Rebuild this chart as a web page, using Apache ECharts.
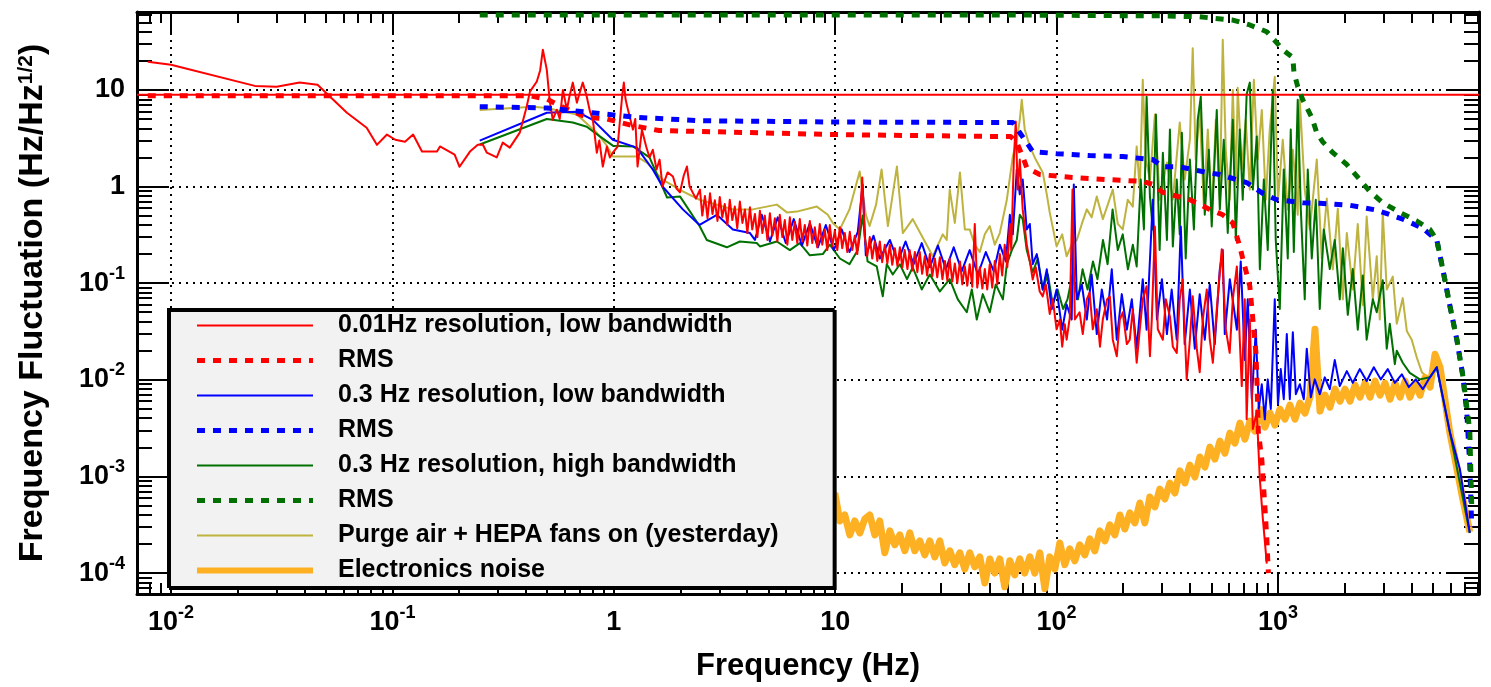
<!DOCTYPE html>
<html><head><meta charset="utf-8">
<script src="https://cdn.jsdelivr.net/npm/echarts@6/dist/echarts.min.js"></script>
<style>html,body{margin:0;padding:0;background:#fff}#c{width:1491px;height:687px}</style>
</head><body><div id="c"></div><script>
// ---------- axis ranges & tick labels ----------
const X_RANGE = [0.00702, 8090];
const Y_RANGE = [6.07e-5, 64];
const xMajorTicks = [0.01, 0.1, 1, 10, 100, 1000];
const xTickLabels = ['10^-2', '10^-1', '1', '10', '10^2', '10^3'];
const yMajorTicks = [1e-4, 1e-3, 1e-2, 0.1, 1, 10];
const yTickLabels = ['10^-4', '10^-3', '10^-2', '10^-1', '1', '10'];
const minorMultipliers = [2, 3, 4, 5, 6, 7, 8, 9];

// ---------- series names ----------
const seriesNames = [
  '0.01Hz resolution, low bandwidth', 'RMS#red',
  '0.3 Hz resolution, low bandwidth', 'RMS#blue',
  '0.3 Hz resolution, high bandwidth', 'RMS#green',
  'Purge air + HEPA fans on (yesterday)', 'Electronics noise'
];

// ---------- data [frequency Hz, fluctuation Hz/Hz^1/2] ----------
const redSolid = [
[0.00785,19.6],[0.01,18.2],[0.0239,11.0],[0.030,10.8],[0.0381,11.9],[0.0459,11.3],[0.0623,5.8],[0.0765,4.06],[0.0851,2.7],[0.0945,3.45],[0.103,3.05],[0.114,2.9],[0.124,3.45],[0.136,2.3],[0.159,2.3],[0.164,2.6],[0.191,2.14],[0.201,1.6],[0.224,2.3],[0.243,2.7],[0.256,2.72],[0.267,2.24],[0.296,2.0],[0.315,2.85],[0.339,2.53],[0.376,3.61],[0.404,6.7],[0.418,9.6],[0.449,12.2],[0.465,16],[0.478,26],[0.498,16.2],[0.514,7.55],[0.530,4.92],[0.553,6.24],[0.57,5.0],[0.589,10.0],[0.614,6.24],[0.63,8.5],[0.653,11.9],[0.681,7.38],[0.702,9.4],[0.724,11.9],[0.755,8.5],[0.78,6.0],[0.804,4.92],[0.838,2.24],[0.86,3.0],[0.892,1.61],[0.930,2.59],[0.96,2.0],[0.99,2.24],[1.04,2.59],[1.09,8.5],[1.11,11.9],[1.13,8.0],[1.15,6.7],[1.22,3.88],[1.25,5.0],[1.28,1.61],[1.34,3.88],[1.40,2.6],[1.45,2.0],[1.50,2.4],[1.56,1.5],[1.61,1.9],[1.66,1.0],[1.75,1.4],[1.85,1.27],[1.92,0.95],[1.99,0.87],[2.07,1.3],[2.14,1.61],[2.2,1.0],[2.27,0.87],[2.35,0.75],
[2.45,0.93],[2.51,0.50],[2.58,0.80],[2.65,0.47],[2.72,0.85],[2.79,0.52],[2.86,0.72],[2.94,0.44],[3.01,0.78],[3.09,0.48],[3.17,0.66],[3.26,0.40],[3.34,0.73],[3.43,0.45],[3.52,0.62],[3.61,0.37],[3.71,0.70],[3.81,0.42],[3.91,0.58],[4.01,0.33],[4.12,0.61],[4.22,0.36],[4.34,0.52],[4.45,0.30],[4.57,0.56],[4.69,0.33],[4.81,0.50],[4.94,0.28],[5.07,0.53],[5.20,0.31],[5.34,0.47],[5.48,0.27],[5.62,0.51],[5.77,0.30],[5.92,0.45],[6.08,0.25],[6.24,0.48],[6.40,0.28],[6.57,0.43],[6.74,0.26],[6.92,0.46],[7.10,0.27],[7.29,0.40],[7.48,0.245],[7.68,0.44],[7.88,0.26],[8.09,0.38],[8.30,0.235],[8.52,0.41],[8.74,0.25],[8.97,0.36],[9.21,0.22],[9.45,0.40],[9.70,0.24],[9.96,0.35],[10.22,0.22],[10.49,0.38],[10.76,0.23],[11.05,0.33],[11.34,0.21],[11.64,0.34],[11.94,0.22],[12.26,0.31],[12.58,0.20],[12.91,0.40],[13.25,1.24],[13.6,0.30],[13.96,0.19],[14.33,0.30],[14.7,0.18],[15.1,0.27],[15.5,0.17],[15.9,0.27],[16.3,0.165],[16.75,0.25],[17.2,0.16],[17.65,0.25],[18.1,0.155],[18.6,0.23],[19.1,0.15],[19.6,0.235],[20.1,0.145],[20.6,0.22],[21.2,0.14],[21.7,0.22],[22.3,0.135],[22.9,0.21],[23.5,0.13],[24.1,0.21],[24.7,0.125],[25.4,0.19],[26.0,0.12],[26.75,0.20],[27.45,0.118],[28.2,0.18],[28.9,0.115],[29.7,0.185],[30.5,0.11],[31.3,0.17],[32.1,0.106],[32.9,0.18],[33.8,0.104],[34.7,0.16],[35.6,0.10],[36.6,0.168],[37.5,0.097],[38.5,0.15],[39.5,0.094],[40.5,0.157],[41.6,0.092],[42.7,0.41],[43.8,0.09],[45.0,0.146],[46.2,0.088],[47.4,0.14],[48.6,0.086],[49.9,0.157],[51.2,0.09],[52.6,0.17],[54.0,0.097],[55.4,0.20],[56.8,0.12],[58.3,0.25],[59.9,0.146],[61.5,0.41],[62.4,0.22],[64.1,1.9],[65.4,4.7],
[66.7,0.93],[68.2,1.9],[70.3,0.58],[73.3,0.252],[75.7,0.168],[78.0,0.109],[80.5,0.146],[83.9,0.082],[86.6,0.073],[89.4,0.097],[93.1,0.048],[96.1,0.068],[100,0.0333],[103.4,0.042],[106,0.022],[108.9,0.0376],[111,0.026],[114.7,0.044],[118,0.93],[120.9,0.042],[127,0.05],[131.3,0.0297],[136.9,0.068],[141,0.08],[145.7,0.0333],[151.9,0.0537],[157,0.022],[161.7,0.042],[169,0.068],[174,0.073],[179.4,0.026],[187,0.0175],[193,0.042],[199,0.05],[207.6,0.0234],[214,0.026],[220.9,0.0537],[230,0.015],[237.6,0.0333],[245,0.068],[255,0.093],[264,0.0175],[269.2,0.042],[278,0.386],[286.5,0.0333],[302,0.026],[311.4,0.068],[325,0.045],[335,0.022],[349,0.019],[360,0.068],[371,0.109],[387,0.0101],[400,0.026],[412,0.073],[429.8,0.021],[443,0.012],[457.4,0.042],[477,0.086],[492,0.026],[508,0.015],[529,0.0537],[557,0.224],[581.2,0.0333],[605,0.019],[625,0.068],[652,0.149],[672,0.026],[686,0.0086],[707.9,0.068],[722,0.0039],[746,0.042],[770,0.0031],[802,0.0046],[827.7,0.00095],[854,0.00037],[890,0.000125]
];
const redRms = [
[0.00785,8.7],[0.418,8.7],[0.5,8.0],[0.6,6.5],[0.755,5.2],[0.93,5.0],[1.2,4.3],[1.6,3.8],[3.45,3.65],[9.75,3.45],[50,3.3],[62,3.3],[66.1,2.85],[70.3,2.04],[73.3,1.57],[83.9,1.33],[118,1.24],[169,1.18],[245,1.13],[272,1.05],[302,0.87],[400,0.73],[492,0.58],[563,0.51],[625,0.42],[672,0.24],[693,0.18],[746,0.093],[770,0.042],[795,0.019],[805,0.0086],[815,0.0029],[845,0.0015],[872,0.0005],[890,0.00023],[905,0.0001]
];
const blueSolid = [
[0.248,2.99],[0.498,5.8],[0.681,5.95],[0.804,4.9],[0.99,3.05],[1.27,2.53],[1.5,1.5],[1.66,1.0],[2.05,0.58],[2.44,0.40],[2.92,0.51],[3.45,0.36],[4.12,0.33],
[4.34,0.28],[4.66,0.51],[5.07,0.27],[5.50,0.48],[5.98,0.26],[6.50,0.46],[7.07,0.245],[7.68,0.415],[8.35,0.235],[9.07,0.40],[9.86,0.22],[10.7,0.36],[11.6,0.21],[12.65,0.34],[13.3,1.05],[13.75,0.194],[14.9,0.31],[15.9,0.18],[17.65,0.28],[19.2,0.168],[20.8,0.27],[22.6,0.157],[24.6,0.26],[26.75,0.146],[29.1,0.245],[31.6,0.139],[34.3,0.235],[37.3,0.133],[40.5,0.22],[44.1,0.123],[47.9,0.21],[52.0,0.133],[55.4,0.25],[59.0,0.168],[61.5,0.51],[63.4,0.32],[66.1,1.5],[68.2,0.83],[70.3,1.18],[73.3,0.36],[75.7,0.41],[78.0,0.157],[81.4,0.20],[86.6,0.086],[90.3,0.139],[95.1,0.054],[100,0.086],[106,0.033],[111,0.06],[117,0.042],[119.6,1.05],[123.4,0.068],[130,0.097],[136.9,0.042],[144,0.123],[151.9,0.0297],[160,0.086],[169,0.042],[177.5,0.139],[187,0.026],[197,0.077],[207.6,0.033],[218.6,0.068],[230,0.021],[245,0.11],[255,0.033],[272,0.73],[284,0.042],[299,0.11],[315,0.0297],[331,0.086],[349,0.026],[364,0.386],[379,0.0234],[400,0.086],[421,0.021],[443,0.077],[467,0.026],[492,0.097],[518,0.0234],[546,0.139],[563,0.22],[575,0.0297],[606,0.11],[652,0.033],[679,0.168],[708,0.016],[730,0.068],[762,0.0063],[794,0.033],[819,0.005],[845,0.009],[872,0.0039],[899,0.0101],[928,0.005],[967,0.068],[1000,0.0056],[1029,0.0129],[1062,0.0063],[1096,0.0297],[1131,0.0063],[1167,0.031],[1204,0.0071],[1255,0.009],[1308,0.0063],[1349,0.021],[1407,0.0066],[1466,0.0101],[1544,0.0071],[1627,0.0106],[1714,0.0080],[1805,0.016],[1901,0.0086],[2046,0.0123],[2177,0.0093],[2340,0.0129],[2515,0.0097],[2709,0.0135],[2913,0.0101],[3133,0.0129],[3371,0.0093],[3625,0.0114],[3897,0.0084],[4193,0.0101],[4510,0.008],[4853,0.0106],[5215,0.0135],[5970,0.0029],[6627,0.0012],[7350,0.00026]
];
const blueRms = [
[0.248,6.7],[0.5,6.5],[0.8,5.8],[1.27,5.2],[2.44,4.8],[10,4.65],[55,4.6],[63.4,4.6],[68.2,3.6],[73.3,2.85],[78,2.3],[100,2.19],[141,2.09],[199,2.04],[272,1.9],[302,1.6],[360,1.6],[412,1.5],[477,1.4],[546,1.33],[605,1.24],[722,1.1],[854,0.85],[988,0.73],[1294,0.68],[1544,0.67],[2110,0.64],[2793,0.57],[3660,0.46],[4510,0.37],[5215,0.28],[5549,0.14],[5970,0.059],[6426,0.026],[6837,0.011],[7127,0.0046],[7350,0.0013],[7503,0.0003]
];
const greenSolid = [
[0.248,2.72],[0.498,5.0],[0.653,4.6],[0.755,4.16],[0.865,3.3],[0.99,2.65],[1.22,2.6],[1.45,2.0],[1.74,0.77],[1.99,0.79],[2.44,0.39],[2.63,0.28],[3.24,0.235],[3.71,0.27],[4.42,0.26],[4.57,0.24],[5.45,0.27],[6.24,0.22],[6.92,0.26],[7.68,0.194],[8.79,0.20],[9.45,0.25],[10.5,0.18],[11.6,0.157],[12.65,0.22],[13.3,0.5],[14.0,0.168],[15.4,0.149],[16.4,0.073],[17.1,0.157],[18.2,0.123],[19.6,0.157],[21.1,0.11],[22.4,0.146],[24.6,0.086],[26.75,0.123],[29.7,0.082],[32.9,0.11],[35.8,0.068],[39.3,0.05],[41.4,0.086],[43.6,0.042],[46.4,0.077],[49.9,0.05],[53.1,0.097],[57.2,0.068],[59.6,0.157],[62.8,0.22],[66.1,0.28],[68.2,0.51],[70.3,0.46],[73.3,0.22],[78.0,0.13],[82.3,0.18],[86.6,0.086],[91.3,0.123],[96.1,0.06],[101,0.086],[107,0.054],[112,0.068],[118,0.123],[125,0.068],[131,0.139],[138,0.086],[146,0.168],[153,0.11],[162,0.28],[170,0.157],[179,0.58],[189,0.22],[199,0.32],[210,0.139],[221,0.25],[230,0.149],[240,1.18],[248,0.36],[255,8.5],[264,0.79],[272,0.36],[281,5.55],[292,0.22],[302,2.24],[315,0.28],[325,3.9],[335,0.24],[349,1.18],[360,0.32],[368,3.6],[383,0.18],[400,1.9],[417,0.36],[434,4.9],[448,8.5],[467,0.51],[487,2.4],[502,0.386],[529,6.2],[546,0.58],[569,3.05],[593,0.33],[625,4.9],[645,0.28],[672,3.9],[693,0.73],[722,9.0],[746,11.9],[770,0.93],[802,3.3],[828,0.139],[863,1.18],[899,0.22],[947,10],[977,0.28],[1019,0.054],[1062,1.5],[1107,0.18],[1142,3.9],[1179,0.21],[1228,7.9],[1268,0.58],[1321,0.068],[1363,1.5],[1421,0.18],[1482,0.73],[1544,0.054],[1610,0.36],[1714,0.14],[1805,0.28],[1901,0.068],[1963,0.23],[2067,0.047],[2177,0.14],[2293,0.033],[2416,0.12],[2515,0.026],[2681,0.068],[2793,0.05],[2973,0.107],[3099,0.021],[3199,0.038],[3371,0.0145],[3440,0.02],[3660,0.015],[3938,0.0118],[4373,0.0101],[4853,0.0106],[5215,0.0135],[5970,0.0029],[7350,0.00026]
];
const greenRms = [
[0.248,59.7],[55,59.7],[320,58.3],[443,57],[625,52.8],[746,47],[890,40],[988,30.7],[1052,26],[1167,21.6],[1180,15.4],[1228,10.8],[1294,7.9],[1421,5.2],[1497,3.6],[1593,2.9],[1769,2.24],[2046,1.69],[2340,1.18],[2598,0.89],[2973,0.68],[3548,0.54],[4236,0.44],[4853,0.36],[5215,0.28],[5549,0.14],[5970,0.059],[6426,0.026],[6837,0.011],[7350,0.003],[7500,0.0005]
];
const purgeAir = [
[0.248,6.2],[0.431,6.7],[0.498,6.5],[0.681,5.55],[0.838,3.6],[0.93,2.65],[0.99,2.04],[1.27,2.04],[1.41,1.77],[1.66,1.18],[2.05,0.89],[2.44,0.73],[3.45,0.58],[4.24,0.58],[5.45,0.65],[6.05,0.54],[6.71,0.55],[8.26,0.62],[9.26,0.51],[9.75,0.42],[10.5,0.36],[11.6,0.58],[12.9,1.43],[13.75,0.51],[14.3,0.39],[15.3,0.65],[16.2,1.5],[17.3,0.39],[19.0,1.61],[20.2,0.33],[22.4,0.46],[24.6,0.31],[27.6,0.19],[30.6,0.32],[31.9,0.28],[32.9,0.93],[34.7,0.42],[36.6,1.4],[38.5,0.36],[40.5,0.36],[42.7,0.25],[45,0.21],[47.4,0.32],[49.9,0.39],[52.6,0.25],[55.4,0.33],[59.6,0.73],[63.4,2.04],[66.1,3.05],[68.2,4.9],[69.6,7.9],[71.8,3.9],[75.7,2.6],[80.5,1.9],[86.6,1.4],[90.3,0.83],[93.1,0.54],[100,0.24],[106,0.32],[111,0.19],[117,0.25],[123.4,0.28],[130,0.41],[136.9,0.58],[144,0.48],[151.9,0.79],[161.7,0.46],[170.3,0.65],[179.4,0.93],[189,0.41],[199,0.36],[209.7,0.73],[220.9,0.62],[230,2.6],[237.6,0.93],[245,12.7],[252.9,1.9],[264,1.18],[278,5.55],[292.5,0.73],[315,1.77],[335,0.73],[360,4.6],[379,1.18],[400,3.05],[412,27],[425,1.9],[443,6.2],[462,0.65],[482,3.9],[502,0.51],[524,4.9],[546,0.73],[563,33],[581,2.4],[605,0.73],[625,10],[645,1.05],[658,10.5],[686,1.5],[715,4.9],[746,0.93],[778,12.7],[810,1.9],[845,6.2],[881,0.73],[918,3.9],[967,13.7],[1000,0.73],[1051,3.05],[1107,0.58],[1167,2.4],[1228,0.51],[1255,7.9],[1321,0.93],[1392,0.36],[1497,1.9],[1577,0.18],[1661,0.75],[1769,0.139],[1863,0.59],[1963,0.068],[2046,0.33],[2177,0.086],[2293,0.41],[2416,0.059],[2515,0.49],[2681,0.068],[2793,0.19],[2882,0.042],[2973,0.54],[3099,0.086],[3300,0.117],[3440,0.038],[3660,0.07],[3818,0.032],[4019,0.026],[4236,0.017],[4463,0.012],[4853,0.0101],[5215,0.0135],[5970,0.0029],[7350,0.00026]
];
const electronics = [
[9.96,6.74e-4],[10.49,3.46e-4],[11.05,3.99e-4],[11.64,2.48e-4],[12.26,3.46e-4],[12.92,2.60e-4],[13.61,3.63e-4],[14.33,3.99e-4],[15.10,2.48e-4],[15.90,3.46e-4],[16.75,1.62e-4],[17.65,2.73e-4],[18.59,1.96e-4],[19.58,2.48e-4],[20.63,1.70e-4],[21.73,2.60e-4],[22.88,1.70e-4],[24.11,2.15e-4],[25.39,1.54e-4],[26.75,2.15e-4],[28.18,1.47e-4],[29.68,2.15e-4],[31.26,1.27e-4],[32.93,1.70e-4],[34.70,1.22e-4],[36.55,1.62e-4],[38.49,1.10e-4],[40.54,1.62e-4],[42.71,1.16e-4],[44.99,1.47e-4],[47.40,7.9e-5],[49.93,1.40e-4],[52.60,1.00e-4],[55.39,1.40e-4],[58.34,7.2e-5],[61.5,1.34e-4],[64.7,9.58e-5],[68.2,1.40e-4],[71.8,1.00e-4],[75.7,1.47e-4],[79.7,1.00e-4],[84.0,1.62e-4],[88.5,6.87e-5],[93.2,1.47e-4],[98.2,1.10e-4],[103.4,2.05e-4],[108.9,1.22e-4],[114.7,1.78e-4],[120.9,1.34e-4],[127.3,1.96e-4],[134.1,1.54e-4],[141.3,2.26e-4],[148.8,1.70e-4],[156.8,2.73e-4],[165.2,2.15e-4],[174.0,3.15e-4],[183.3,2.48e-4],[193.1,3.99e-4],[203.4,2.86e-4],[214.2,4.19e-4],[225.7,3.30e-4],[237.7,5.31e-4],[250.4,3.30e-4],[263.8,6.13e-4],[277.9,4.83e-4],[292.7,7.41e-4],[308.4,5.84e-4],[324.8,8.55e-4],[342.2,6.74e-4],[360.5,1.14e-3],[379.7,8.55e-4],[400.0,1.31e-3],[421.4,9.86e-4],[443.9,1.59e-3],[467.6,1.25e-3],[492.5,2.01e-3],[518.9,1.51e-3],[546.6,2.32e-3],[575.8,1.74e-3],[606.5,2.81e-3],[638.9,2.21e-3],[673.1,3.56e-3],[709.0,2.43e-3],[746.9,3.74e-3],[786.8,2.94e-3],[828.9,4.97e-3],[873.1,3.24e-3],[919.8,4.52e-3],[968.9,3.40e-3],[1020.7,4.97e-3],[1075.2,3.92e-3],[1132.7,5.47e-3],[1193.2,3.92e-3],[1256.9,5.73e-3],[1324.1,4.52e-3],[1394.8,6.61e-3],[1469.3,3.33e-2],[1547.8,4.74e-3],[1630.5,6.93e-3],[1717.6,5.21e-3],[1809.4,8.00e-3],[1906.1,6.01e-3],[2007.9,8.00e-3],[2115.2,6.01e-3],[2228.2,8.79e-3],[2347.2,6.61e-3],[2472.6,9.22e-3],[2604.7,6.61e-3],[2743.9,9.67e-3],[2890.5,6.93e-3],[3044.9,9.22e-3],[3207.6,6.30e-3],[3379.0,9.22e-3],[3559.5,6.61e-3],[3748.4,9.67e-3],[3948.6,6.61e-3],[4159.5,9.22e-3],[4381.7,6.93e-3],[4615.8,1.06e-2],[4862.4,8.39e-3],[5122.2,1.84e-2],[5395.8,1.35e-2],[5970,2.87e-3],[6837,5.84e-4],[7350,2.66e-4]
];
const totalLevel = [[0.00702, 8.9], [8090, 8.9]];

// ---------- helpers ----------
const FONT = "'Liberation Sans', Arial, Helvetica, sans-serif";
function supRich(str) {
  const p = str.split('^');
  return p.length > 1 ? '{b|' + p[0] + '}{s|' + p[1] + '}' : '{b|' + p[0] + '}';
}
function labelFor(v, ticks, labels) {
  for (let i = 0; i < ticks.length; i++) {
    if (Math.abs(Math.log10(v) - Math.log10(ticks[i])) < 1e-6) return supRich(labels[i]);
  }
  return '';
}
function minorTicks(range) {
  const out = [];
  for (let d = -6; d <= 5; d++) for (const m of minorMultipliers) {
    const v = m * Math.pow(10, d);
    if (v > range[0] && v < range[1]) out.push(v);
  }
  return out;
}
const xMinor = minorTicks(X_RANGE);
const yMinor = minorTicks(Y_RANGE);

const labelRichX = {
  b: { fontSize: 27, fontWeight: 'bold', fontFamily: FONT, color: '#000', padding: [5, 0, 0, 0] },
  s: { fontSize: 18, fontWeight: 'bold', fontFamily: FONT, color: '#000', verticalAlign: 'top' }
};
const labelRichY = {
  b: { fontSize: 27, fontWeight: 'bold', fontFamily: FONT, color: '#000', padding: [5, 0, 5, 0] },
  s: { fontSize: 18, fontWeight: 'bold', fontFamily: FONT, color: '#000', verticalAlign: 'top' }
};

function xAxisDef(pos, major) {
  const main = major && pos === 'bottom';
  return {
    type: 'log', position: pos, min: X_RANGE[0], max: X_RANGE[1],
    axisLine: { show: major, lineStyle: { color: '#000', width: 3 } },
    axisTick: { show: true, inside: true, length: major ? 22 : 11,
      lineStyle: { color: '#000', width: 2 }, customValues: major ? xMajorTicks : xMinor },
    minorTick: { show: false },
    axisLabel: main ? { show: true, customValues: xMajorTicks, margin: 10,
      formatter: v => labelFor(v, xMajorTicks, xTickLabels), rich: labelRichX } : { show: false },
    splitLine: main ? { show: true, lineStyle: { color: '#000', width: 2, type: [2, 5] } } : { show: false },
    name: main ? 'Frequency (Hz)' : '',
    nameLocation: 'middle', nameGap: 57,
    nameTextStyle: { fontSize: 31, fontWeight: 'bold', fontFamily: FONT, color: '#000' },
    silent: true
  };
}
function yAxisDef(pos, major) {
  const main = major && pos === 'left';
  return {
    type: 'log', position: pos, min: Y_RANGE[0], max: Y_RANGE[1],
    axisLine: { show: major, lineStyle: { color: '#000', width: 3 } },
    axisTick: { show: true, inside: true, length: major ? 32 : 15,
      lineStyle: { color: '#000', width: 2 }, customValues: major ? yMajorTicks : yMinor },
    minorTick: { show: false },
    axisLabel: main ? { show: true, customValues: yMajorTicks, margin: 12,
      formatter: v => labelFor(v, yMajorTicks, yTickLabels), rich: labelRichY } : { show: false },
    splitLine: main ? { show: true, lineStyle: { color: '#000', width: 2, type: [2, 5] } } : { show: false },
    name: main ? '{t|Frequency Fluctuation (Hz/Hz}{s|1/2}{t|)}' : '',
    nameLocation: 'middle', nameGap: 87, nameRotate: 90,
    nameTextStyle: { color: '#000', rich: {
      t: { fontSize: 34, fontWeight: 'bold', fontFamily: FONT, color: '#000' },
      s: { fontSize: 21, fontWeight: 'bold', fontFamily: FONT, color: '#000', verticalAlign: 'top' } } },
    silent: true
  };
}

function lineSeries(name, data, color, width, dash) {
  return {
    name, type: 'line', data, xAxisIndex: 0, yAxisIndex: 0,
    symbol: 'none', showSymbol: false, silent: true, animation: false,
    lineStyle: { color, width, type: dash ? [8, 8] : 'solid', cap: 'butt', join: 'round' },
    itemStyle: { color },
    emphasis: { disabled: true }
  };
}

const RED = '#ff0000', BLUE = '#0000ff', GREEN = '#007000', OLIVE = '#bdb33e', ORANGE = '#fdb022';
const legendStyles = [
  { width: 2, type: 'solid' }, { width: 5, type: [8, 8] },
  { width: 2, type: 'solid' }, { width: 5, type: [8, 8] },
  { width: 2, type: 'solid' }, { width: 5, type: [8, 8] },
  { width: 2, type: 'solid' }, { width: 6, type: 'solid' }
];

const option = {
  animation: false,
  backgroundColor: '#fff',
  grid: { left: 137, top: 12, right: 12, bottom: 92, containLabel: false },
  xAxis: [xAxisDef('bottom', true), xAxisDef('bottom', false), xAxisDef('top', true), xAxisDef('top', false)],
  yAxis: [yAxisDef('left', true), yAxisDef('left', false), yAxisDef('right', true), yAxisDef('right', false)],
  legend: {
    orient: 'vertical', left: 168, top: 309,
    data: seriesNames.map((n, i) => ({ name: n, lineStyle: Object.assign({ cap: 'butt' }, legendStyles[i]) })),
    itemWidth: 116, itemHeight: 14, itemGap: 10,
    padding: [4, 55, 4, 26],
    itemStyle: { opacity: 0, borderWidth: 0 },
    backgroundColor: '#f2f2f2', borderColor: '#000', borderWidth: 2, borderRadius: 0,
    shadowColor: '#000', shadowOffsetX: 2, shadowOffsetY: 2, shadowBlur: 0,
    textStyle: { fontSize: 25, fontWeight: 'bold', fontFamily: FONT, color: '#000', lineHeight: 25, padding: [0, 0, 0, 20] },
    formatter: n => n.split('#')[0],
    selectedMode: false
  },
  series: [
    lineSeries(seriesNames[6], purgeAir, OLIVE, 2, false),
    lineSeries(seriesNames[7], electronics, ORANGE, 7, false),
    lineSeries(seriesNames[4], greenSolid, GREEN, 2, false),
    lineSeries(seriesNames[2], blueSolid, BLUE, 2, false),
    lineSeries(seriesNames[0], redSolid, RED, 2, false),
    lineSeries('total', totalLevel, RED, 2, false),
    lineSeries(seriesNames[1], redRms, RED, 5, true),
    lineSeries(seriesNames[3], blueRms, BLUE, 5, true),
    lineSeries(seriesNames[5], greenRms, GREEN, 5, true)
  ]
};
const chart = echarts.init(document.getElementById('c'), null, { renderer: 'canvas', width: 1491, height: 687 });
chart.setOption(option);
</script></body></html>
